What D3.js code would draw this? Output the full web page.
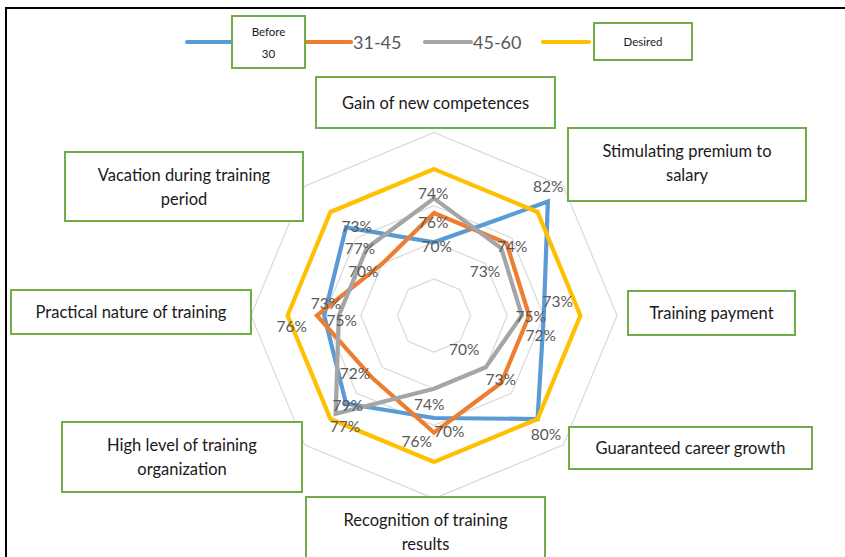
<!DOCTYPE html>
<html>
<head>
<meta charset="utf-8">
<script src="https://cdn.jsdelivr.net/npm/d3@7"></script>
<style>
  body { margin: 0; background: #fff; }
  svg { display: block; }
</style>
</head>
<body>
<svg id="chart" width="845" height="557"></svg>
<script>
// ---- data ----
const categories = [
  "Gain of new competences",
  "Stimulating premium to salary",
  "Training payment",
  "Guaranteed career growth",
  "Recognition of training results",
  "High level of training organization",
  "Practical nature of training",
  "Vacation during training period"
];
const seriesNames = ["Before 30", "31-45", "45-60", "Desired"];
const before30  = [70, 82, 75, 80, 74, 77, 75, 77];
const age31to45 = [74, 74, 73, 73, 76, 72, 76, 70];
const age45to60 = [76, 73, 72, 70, 70, 79, 73, 73];
const desired   = [80, 80, 80, 80, 80, 80, 80, 80];
const ringTicks = [65, 70, 75, 80, 85];

// ---- layout ----
const W = 845, H = 557;
const cx = 434, cy = 315.5, R = 183;
const colors = ["#5b9bd5", "#ed7d31", "#a5a5a5", "#ffc000"];
const font = "Lato, 'Noto Sans', sans-serif";

// where each data label sits relative to its point (px), per labelled series
const labelNudge = [
  [[2.7, 4.4], [0.4, -15.6], [-13, 1.2], [8.5, 15], [-4.7, -13], [-1, 23], [17.5, 4.5], [14, 20.8]],
  [[-0.7, -19.7], [5.8, 3.7], [28.5, -13.8], [-0.6, -3.5], [-17.3, 9.1], [-16.9, -4.3], [-25.2, 11.2], [-18.9, 8]],
  [[-0.7, 24.3], [-16.3, 23.5], [18.9, 19.5], [-21.5, -18], [15.3, 43], [12.1, -7.9], [-12.8, -12.2], [-10, -21.5]]
];

// category text boxes: [x, y, w, h, words on first line]
const catBoxes = [
  [316, 77, 239, 51, 99],
  [568, 128, 238, 73, 3],
  [628, 291, 167, 44, 99],
  [569, 427, 243, 42, 99],
  [306, 497, 239, 72, 3],
  [62, 422, 240, 70, 4],
  [11, 290, 240, 44, 99],
  [65, 152, 238, 69, 3]
];

// legend swatch start positions; entries 0 and 3 are named inside framed boxes
const legendX = [187, 305, 425, 543];
const legendBoxes = [
  { series: 0, x: 232, y: 16, w: 73, h: 52, lines: ["Before", "30"], ys: [36, 58] },
  { series: 3, x: 594, y: 23, w: 98, h: 37, lines: ["Desired"], ys: [46] }
];

const svg = d3.select("#chart");
svg.append("rect").attr("width", W).attr("height", H).attr("fill", "#fff");

const r = d3.scaleLinear().domain([60, 85]).range([0, R]);
const angle = d3.scaleLinear().domain([0, categories.length]).range([0, 2 * Math.PI]);
const pt = (i, v) => [cx + r(v) * Math.sin(angle(i)), cy - r(v) * Math.cos(angle(i))];

// grid rings
const g = svg.append("g");
g.selectAll("path.ring").data(ringTicks).join("path")
  .attr("class", "ring")
  .attr("d", t => d3.line()(categories.map((c, i) => pt(i, t))) + "Z")
  .attr("fill", "none").attr("stroke", "#d9d9d9").attr("stroke-width", 1.2);

// series lines
const allSeries = [before30, age31to45, age45to60, desired];
const line = d3.line().curve(d3.curveLinearClosed);
g.selectAll("path.series").data(allSeries).join("path")
  .attr("class", "series")
  .attr("d", vals => line(vals.map((v, i) => pt(i, v))))
  .attr("fill", "none")
  .attr("stroke", (d, k) => colors[k])
  .attr("stroke-width", 4.2)
  .attr("stroke-linejoin", "miter");

// data labels (first three series)
allSeries.slice(0, 3).forEach((vals, k) => {
  g.selectAll(null).data(vals).join("text")
    .attr("x", (v, i) => pt(i, v)[0] + labelNudge[k][i][0])
    .attr("y", (v, i) => pt(i, v)[1] + labelNudge[k][i][1] + 5.5)
    .attr("text-anchor", "middle")
    .attr("font-family", font).attr("font-size", 15.5)
    .attr("fill", "#595959")
    .text(v => v + "%");
});

// legend
const leg = svg.append("g");
const ly = 42;
seriesNames.forEach((name, k) => {
  const lx = legendX[k];
  leg.append("line").attr("x1", lx).attr("x2", lx + 46).attr("y1", ly).attr("y2", ly)
    .attr("stroke", colors[k]).attr("stroke-width", 4.2).attr("stroke-linecap", "round");
  if (legendBoxes.some(b => b.series === k)) return;
  leg.append("text").attr("x", lx + 48).attr("y", ly + 6.5)
    .attr("font-family", font).attr("font-size", 18).attr("fill", "#595959").text(name);
});

// framed legend names
legendBoxes.forEach(b => {
  leg.append("rect").attr("x", b.x).attr("y", b.y).attr("width", b.w).attr("height", b.h)
    .attr("fill", "#fff").attr("stroke", "#70ad47").attr("stroke-width", 2);
  b.lines.forEach((s, j) => {
    leg.append("text").attr("x", b.x + b.w / 2).attr("y", b.ys[j])
      .attr("text-anchor", "middle").attr("font-family", font).attr("font-size", 11.5)
      .attr("fill", "#1a1a1a").text(s);
  });
});

// category boxes
const cat = svg.append("g");
categories.forEach((name, i) => {
  const [x, y, w, h, n] = catBoxes[i];
  cat.append("rect").attr("x", x).attr("y", y).attr("width", w).attr("height", h)
    .attr("fill", "#fff").attr("stroke", "#70ad47").attr("stroke-width", 2);
  const words = name.split(" ");
  const lines = words.length > n ? [words.slice(0, n).join(" "), words.slice(n).join(" ")] : [name];
  const y0 = lines.length === 1 ? y + h / 2 + 6 : y + 29;
  lines.forEach((s, j) => {
    cat.append("text").attr("x", x + w / 2).attr("y", y0 + j * 23.5)
      .attr("text-anchor", "middle").attr("font-family", font).attr("font-size", 16.5)
      .attr("fill", "#1a1a1a").text(s);
  });
});

// frame
svg.append("path").attr("d", `M6,${H} L6,8 L${W},8`)
  .attr("fill", "none").attr("stroke", "#000").attr("stroke-width", 2);
</script>
</body>
</html>
